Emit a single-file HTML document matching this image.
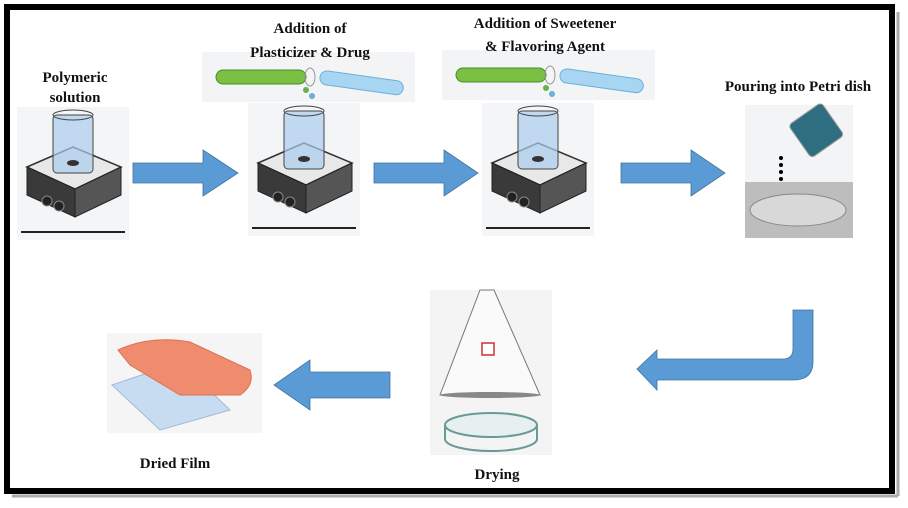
<!DOCTYPE html>
<html><head><meta charset="utf-8"><style>
html,body{margin:0;padding:0;background:#fff}
svg{display:block}
text{font-family:"Liberation Serif",serif;font-weight:bold;fill:#111}
</style></head><body>
<svg width="908" height="508" viewBox="0 0 908 508" xmlns="http://www.w3.org/2000/svg">
<defs>
<g id="plate">
  <rect x="0" y="0" width="112" height="133" fill="#f4f5f6"/>
  <polygon points="10,60 56,40 104,60 58,82" fill="#e8e8e8" stroke="#333" stroke-width="1.5"/>
  <polygon points="10,60 58,82 58,110 10,88" fill="#3a3a3a" stroke="#222"/>
  <polygon points="58,82 104,60 104,88 58,110" fill="#555" stroke="#222"/>
  <circle cx="30" cy="94" r="5" fill="#222" stroke="#888"/>
  <circle cx="42" cy="99" r="5" fill="#222" stroke="#888"/>
  <rect x="36" y="8" width="40" height="58" rx="4" fill="#a9cdee" fill-opacity="0.7" stroke="#444"/>
  <ellipse cx="56" cy="8" rx="20" ry="5" fill="none" stroke="#444"/>
  <ellipse cx="56" cy="56" rx="6" ry="3" fill="#333"/>
  <line x1="4" y1="125" x2="108" y2="125" stroke="#222" stroke-width="2"/>
</g>
<g id="tubes">
  <rect x="0" y="0" width="213" height="50" fill="#f3f4f5"/>
  <rect x="14" y="18" width="90" height="14" rx="7" fill="#7ac043" stroke="#4a8a2a"/>
  <ellipse cx="108" cy="25" rx="5" ry="9" fill="none" stroke="#999"/>
  <rect x="118" y="18" width="84" height="14" rx="7" fill="#a8d6f2" stroke="#6ab0d8" transform="rotate(8 118 25)"/>
  <circle cx="104" cy="38" r="3" fill="#6ab04c"/>
  <circle cx="110" cy="44" r="3" fill="#6ab0d8"/>
</g>
</defs>

<!-- frame -->
<rect x="7" y="7" width="885" height="484" fill="none" stroke="#000" stroke-width="6"/>
<line x1="12" y1="496" x2="898" y2="496" stroke="#aaa" stroke-width="3"/>
<line x1="898" y1="12" x2="898" y2="496" stroke="#aaa" stroke-width="3"/>

<!-- images -->
<use href="#plate" x="17" y="107"/>
<use href="#tubes" x="202" y="52"/>
<use href="#plate" x="248" y="103"/>
<use href="#tubes" x="442" y="50"/>
<use href="#plate" x="482" y="103"/>

<!-- labels -->
<text x="75" y="82" font-size="15" text-anchor="middle">Polymeric</text>
<text x="75" y="102" font-size="15" text-anchor="middle">solution</text>
<text x="310" y="33" font-size="15" text-anchor="middle">Addition of</text>
<text x="310" y="57" font-size="15" text-anchor="middle">Plasticizer &amp; Drug</text>
<text x="545" y="28" font-size="15" text-anchor="middle">Addition of Sweetener</text>
<text x="545" y="51" font-size="15" text-anchor="middle">&amp; Flavoring Agent</text>
<text x="798" y="91" font-size="15" text-anchor="middle">Pouring into Petri dish</text>
<text x="497" y="479" font-size="15" text-anchor="middle">Drying</text>
<text x="175" y="468" font-size="15" text-anchor="middle">Dried Film</text>

<!-- petri pouring -->
<rect x="745" y="105" width="108" height="133" fill="#f3f4f5"/>
<rect x="745" y="182" width="108" height="56" fill="#bdbdbd"/>
<ellipse cx="798" cy="210" rx="48" ry="16" fill="#d8d8d8" stroke="#888"/>
<g transform="rotate(-35 815 125)"><rect x="793" y="110" width="40" height="40" rx="4" fill="#2f6e80" stroke="#999"/></g>
<circle cx="781" cy="158" r="2" fill="#000"/><circle cx="781" cy="165" r="2" fill="#000"/><circle cx="781" cy="172" r="2" fill="#000"/><circle cx="781" cy="179" r="2" fill="#000"/>

<!-- flask -->
<rect x="430" y="290" width="122" height="165" fill="#f4f4f4"/>
<polygon points="480,290 494,290 540,395 440,395" fill="#fafafa" stroke="#777"/>
<ellipse cx="490" cy="395" rx="50" ry="3" fill="#888"/>
<rect x="482" y="343" width="12" height="12" fill="#fff" stroke="#c33" stroke-width="1.5"/>
<ellipse cx="491" cy="425" rx="46" ry="12" fill="#e6f0ef" stroke="#6a9a95" stroke-width="2"/>
<path d="M445,425 v14 a46,12 0 0 0 92,0 v-14" fill="none" stroke="#6a9a95" stroke-width="2"/>

<!-- film -->
<rect x="107" y="333" width="155" height="100" fill="#f5f5f5"/>
<polygon points="112,385 180,362 230,410 160,430" fill="#c7dcf0" stroke="#a0bad8"/>
<path d="M118,350 Q150,335 190,342 L250,370 Q255,385 240,395 L180,395 L130,365 Z" fill="#f08c6e" stroke="#e07050"/>

<!-- arrows -->
<g fill="#5b9bd5" stroke="#41719c" stroke-width="0.8">
<polygon points="133,163 203,163 203,150 238,173 203,196 203,183 133,183"/>
<polygon points="374,163 444,163 444,150 478,173 444,196 444,183 374,183"/>
<polygon points="621,163 691,163 691,150 725,173 691,196 691,183 621,183"/>
<polygon points="390,372 310,372 310,360 274,385 310,410 310,398 390,398"/>
<path d="M813,310 V362 Q813,380 793,380 H657 V390 L637,369 L657,350 V359 H783 Q793,359 793,349 V310 Z"/>
</g>
</svg>
</body></html>
